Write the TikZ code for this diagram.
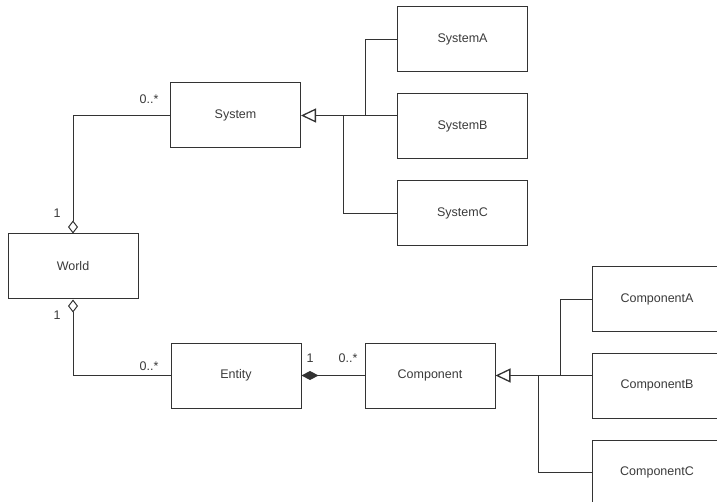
\documentclass[tikz,border=0pt]{standalone}
\usepackage{fontspec}
\setmainfont{Liberation Sans}
\usetikzlibrary{arrows.meta}
\definecolor{linegray}{HTML}{333333}
\definecolor{textgray}{HTML}{3A3A3A}
\tikzset{
  cls/.style={draw=linegray, line width=1pt, minimum width=130pt, minimum height=65pt,
    inner sep=0pt, text=textgray, font=\fontsize{12.5}{15}\selectfont},
  mult/.style={text=textgray, inner sep=1pt, font=\fontsize{12.5}{15}\selectfont},
  link/.style={draw=linegray, line width=1pt},
  agg/.style={link, -{Diamond[open, length=13pt, width=10pt]}},
  comp/.style={link, -{Diamond[length=17pt, width=9pt]}},
  gen/.style={link, -{Triangle[open, length=15pt, width=14pt, line width=1.3pt]}}
}

\begin{document}
\begin{tikzpicture}[x=1pt, y=-1pt]
            \useasboundingbox (0,0) rectangle (717,502);
            \clip (0,0) rectangle (717,502);

            \node[cls] (World) at (73,266.5) {World};
            \node[cls] (System) at (235.5,115.5) {System};
            \node[cls] (SystemA) at (462.5,39.5) {SystemA};
            \node[cls] (SystemB) at (462.5,126.5) {SystemB};
            \node[cls] (SystemC) at (462.5,213.5) {SystemC};

            \node[cls] (Entity) at (236,375.5) {Entity};
            \node[cls] (Component) at (430,375.5) {Component};
            \node[cls] (ComponentA) at (657,299.5) {ComponentA};
            \node[cls] (ComponentB) at (657,385.5) {ComponentB};
            \node[cls] (ComponentC) at (657,472.5) {ComponentC};

            \coordinate (jSysA) at (365,115.5);
            \coordinate (jSysC) at (343,115.5);
            \coordinate (jCompA) at (560,375.5);
            \coordinate (jCompC) at (538,375.5);

            \draw[agg] (System.west) -| (World.north);
            \draw[agg] (Entity.west) -| (World.south);
            \draw[comp] (Component.west) -- (Entity.east);

            \draw[gen] (SystemB.west |- System.east) -- (System.east);
            \draw[link] (SystemA.west) -| (jSysA);
            \draw[link] (SystemC.west) -| (jSysC);

            \draw[gen] (ComponentB.west |- Component.east) -- (Component.east);
            \draw[link] (ComponentA.west) -| (jCompA);
            \draw[link] (ComponentC.west) -| (jCompC);

            \node[mult] (mSystem) at (149,99) {0..*};
            \node[mult] (mWorldTop) at (57,213) {1};
            \node[mult] (mWorldBot) at (57,315) {1};
            \node[mult] (mEntityL) at (149,366) {0..*};
            \node[mult] (mEntityR) at (310,358) {1};
            \node[mult] (mComponent) at (348,358) {0..*};
        \end{tikzpicture}
\end{document}
